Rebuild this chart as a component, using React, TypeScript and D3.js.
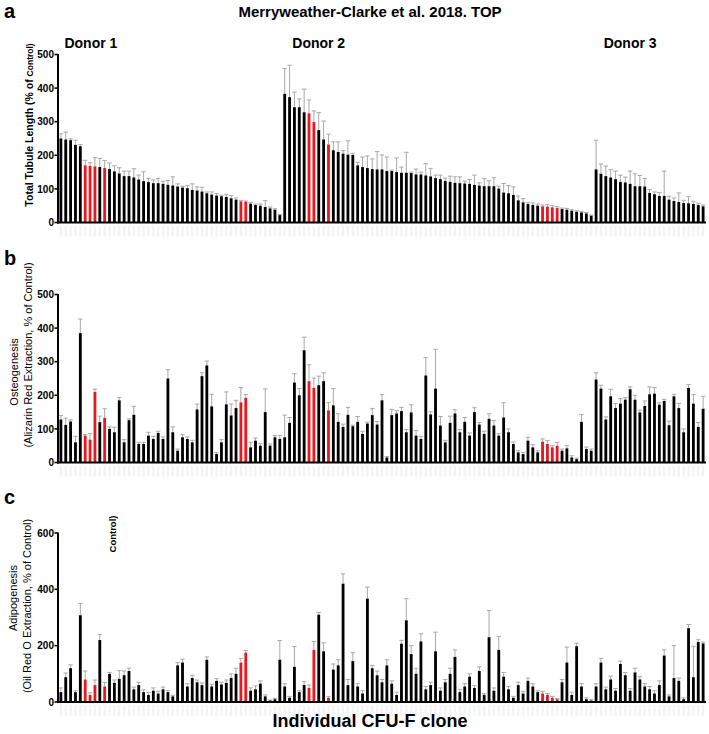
import React from "react";
import * as d3 from "d3";

// ---------- DATA ----------
const donorNames = ["Donor 1", "Donor 2", "Donor 3"];
const donorSizes = [46, 64, 23];

// indices (global clone index) of clones drawn in red
const redClones = [5, 6, 7, 9, 37, 38, 51, 52, 55, 99, 100, 101, 102];

// Panel a: Total tubule length (% of control)
const tubuleValues = [
  250,247,245,231,227,170,168,167,165,162,159,152,146,138,138,134,128,123,120,117,117,115,112,110,107,104,102,97,95,92,87,83,80,78,76,72,68,63,62,56,52,50,46,42,38,22,
  383,373,343,343,328,325,299,275,247,232,215,210,205,202,201,170,165,162,159,158,158,153,153,150,148,148,147,143,143,140,137,132,129,124,121,118,117,116,115,112,110,108,108,108,101,89,87,82,66,60,55,52,50,48,47,45,43,40,38,35,32,30,27,20,
  158,145,138,134,129,121,119,115,108,108,107,88,84,79,79,68,64,61,58,57,55,52,48,
];
const tubuleErrors = [
  14,22,4,14,5,15,10,26,26,22,18,17,17,15,15,26,13,28,11,10,14,8,13,26,8,4,8,18,11,13,4,8,6,3,7,8,5,3,2,4,3,5,19,4,3,2,
  75,95,45,25,69,40,33,52,55,31,25,30,9,41,5,9,30,36,30,53,43,42,3,42,17,61,3,16,7,35,24,9,12,8,17,18,19,7,13,29,8,23,16,25,7,27,23,24,13,11,5,6,5,4,6,5,4,3,4,3,3,3,3,2,
  87,29,30,23,24,20,16,38,37,32,24,10,7,10,74,10,9,27,8,20,8,5,4,
];

// Panel b: Osteogenesis (Alizarin red extraction, % of control)
const osteoValues = [
  128,112,122,60,385,80,68,210,120,133,100,90,185,60,126,142,55,55,80,70,88,70,250,90,35,75,70,60,158,257,289,167,25,60,173,140,162,179,192,45,65,50,150,50,75,70,
  75,118,238,200,334,242,222,230,242,155,170,121,106,142,108,121,85,116,141,113,185,15,141,146,153,90,149,80,70,259,143,220,110,60,118,146,90,121,80,150,113,85,130,110,80,134,90,55,30,25,65,45,30,62,55,45,50,35,42,15,10,121,40,35,
  247,220,128,197,162,175,187,218,187,149,168,203,205,172,183,111,197,162,90,222,175,106,160,
];
const osteoErrors = [
  12,20,5,18,42,3,18,8,18,27,6,15,8,8,4,25,5,5,10,8,5,6,26,16,5,8,6,6,16,10,13,36,4,8,37,34,23,44,10,15,8,6,69,5,5,10,
  66,16,26,20,39,49,29,27,25,23,50,24,8,22,3,16,8,4,20,9,17,3,17,8,11,8,23,15,8,53,8,117,27,6,20,11,8,13,8,13,6,8,15,15,6,44,10,6,5,5,10,8,5,8,10,5,10,5,8,5,3,22,6,5,
  20,10,8,21,13,15,6,7,13,7,15,22,18,6,5,12,6,14,10,10,27,13,37,
];

// Panel c: Adipogenesis (Oil Red O extraction, % of control)
const adipoValues = [
  35,88,120,35,308,80,25,60,220,55,100,68,82,95,110,45,60,35,25,40,30,45,35,20,130,140,55,85,70,60,150,55,75,62,68,85,100,140,175,40,45,65,20,5,10,150,
  55,15,125,35,60,50,185,310,180,15,115,130,420,60,145,55,30,367,120,95,70,130,65,25,207,290,170,100,215,45,60,180,40,70,100,160,35,55,90,50,110,25,230,40,185,90,45,15,60,30,75,55,35,30,25,15,10,70,140,25,198,55,10,5,
  55,140,45,80,40,135,95,40,105,80,55,45,30,60,165,20,85,75,10,262,88,213,208,
];
const adipoErrors = [
  15,15,12,5,42,30,8,18,20,15,5,10,30,15,10,8,10,8,8,10,8,8,5,4,10,12,10,10,8,8,10,8,8,8,10,15,20,15,8,10,12,10,5,2,3,68,
  10,5,72,5,12,10,30,8,30,5,20,20,35,20,30,10,10,41,10,15,10,20,10,10,12,77,30,20,27,10,10,68,10,10,20,25,10,10,10,8,15,5,95,10,48,15,10,5,10,8,10,10,5,8,5,5,3,10,55,10,11,10,5,3,
  10,15,8,12,8,10,10,8,15,10,10,10,10,15,20,5,115,10,5,13,110,8,5,
];

const tubuleTicks = [0, 100, 200, 300, 400, 500];
const osteoTicks = [0, 100, 200, 300, 400, 500];
const adipoTicks = [0, 200, 400, 600];

// ---------- LAYOUT ----------
const W = 709;
const H = 734;
const FONT = "'Liberation Sans', Arial, Helvetica, sans-serif";
const N = tubuleValues.length;

const x = d3
  .scaleBand<number>()
  .domain(d3.range(N))
  .range([58, 706])
  .paddingInner(0.42)
  .paddingOuter(0.3);

type PanelProps = {
  values: number[];
  errors: number[];
  ticks: number[];
  yMax: number;
  y0: number;
  y1: number;
};

const redSet = new Set(redClones);

function Panel({ values, errors, ticks, yMax, y0, y1 }: PanelProps) {
  const y = d3.scaleLinear().domain([0, yMax]).range([y0, y1]);
  const bw = x.bandwidth();
  const capW = 4.4;
  return (
    <g>
      {/* faint clone labels under the axis */}
      {values.map((_, i) => (
        <rect
          key={"f" + i}
          x={(x(i) as number) + 0.3}
          y={y0 + 3}
          width={bw - 0.6}
          height={11}
          fill="#f3f3f3"
        />
      ))}
      {values.map((v, i) => {
        const xc = (x(i) as number) + bw / 2;
        const top = y(v);
        const et = y(v + errors[i]);
        return (
          <g key={i}>
            <line x1={xc} x2={xc} y1={top} y2={et} stroke="#a8a8a8" strokeWidth={1} />
            <line x1={xc - capW / 2} x2={xc + capW / 2} y1={et} y2={et} stroke="#a8a8a8" strokeWidth={1} />
            <rect
              x={x(i)}
              y={top}
              width={bw}
              height={y0 - top}
              fill={redSet.has(i) ? "#e8181e" : "#000"}
            />
          </g>
        );
      })}
      {/* y axis */}
      <line x1={58} x2={58} y1={y1 - 0.5} y2={y0 + 1} stroke="#000" strokeWidth={2} />
      {ticks.map((t) => (
        <g key={t}>
          <line x1={54.5} x2={58} y1={y(t)} y2={y(t)} stroke="#000" strokeWidth={1.6} />
          <text
            x={54}
            y={y(t)}
            dy="0.36em"
            textAnchor="end"
            fontFamily={FONT}
            fontWeight="bold"
            fontSize={10}
          >
            {t}
          </text>
        </g>
      ))}
      {/* x axis */}
      <line x1={57} x2={706} y1={y0} y2={y0} stroke="#000" strokeWidth={2} />
    </g>
  );
}

export default function App() {
  const starts = donorSizes.map((_, k) => d3.sum(donorSizes.slice(0, k)));
  return (
    <div style={{ position: "absolute", left: 0, top: 0 }}>
      <svg width={W} height={H} viewBox={`0 0 ${W} ${H}`} style={{ display: "block", background: "#fff" }}>
        <text x={370} y={17} textAnchor="middle" fontFamily={FONT} fontWeight="bold" fontSize={15}>
          Merryweather-Clarke et al. 2018. TOP
        </text>

        {/* panel letters */}
        <text x={4} y={18} fontFamily={FONT} fontWeight="bold" fontSize={20}>a</text>
        <text x={4} y={265} fontFamily={FONT} fontWeight="bold" fontSize={20}>b</text>
        <text x={4} y={504} fontFamily={FONT} fontWeight="bold" fontSize={20}>c</text>

        {/* donor labels */}
        {donorNames.map((d, k) => (
          <text
            key={d}
            x={(x(starts[k]) as number) + (k === 0 ? 5 : 9)}
            y={48}
            fontFamily={FONT}
            fontWeight="bold"
            fontSize={14}
          >
            {d}
          </text>
        ))}

        <Panel values={tubuleValues} errors={tubuleErrors} ticks={tubuleTicks} yMax={500} y0={222.5} y1={54.5} />
        <Panel values={osteoValues} errors={osteoErrors} ticks={osteoTicks} yMax={500} y0={462.5} y1={294.5} />
        <Panel values={adipoValues} errors={adipoErrors} ticks={adipoTicks} yMax={600} y0={702} y1={533} />

        {/* y axis titles */}
        <text transform="translate(33,125) rotate(-90)" textAnchor="middle" fontFamily={FONT} fontWeight="bold" fontSize={10.5}>
          Total Tubule Length (% of <tspan fontSize={8.5}>Control)</tspan>
        </text>

        <text transform="translate(18,372) rotate(-90)" textAnchor="middle" fontFamily={FONT} fontSize={11}>
          Osteogenesis
        </text>
        <text transform="translate(32,355) rotate(-90)" textAnchor="middle" fontFamily={FONT} fontSize={11}>
          (Alizarin Red Extraction, % of Control)
        </text>

        <text transform="translate(17,598) rotate(-90)" textAnchor="middle" fontFamily={FONT} fontSize={11}>
          Adipogenesis
        </text>
        <text transform="translate(31,606) rotate(-90)" textAnchor="middle" fontFamily={FONT} fontSize={11}>
          (Oil Red O Extraction, % of  Control)
        </text>

        <text transform="translate(116,534) rotate(-90)" textAnchor="middle" fontFamily={FONT} fontWeight="bold" fontSize={9.5}>
          Control)
        </text>

        <text x={370} y={727} textAnchor="middle" fontFamily={FONT} fontWeight="bold" fontSize={18}>
          Individual CFU-F clone
        </text>
      </svg>
    </div>
  );
}
